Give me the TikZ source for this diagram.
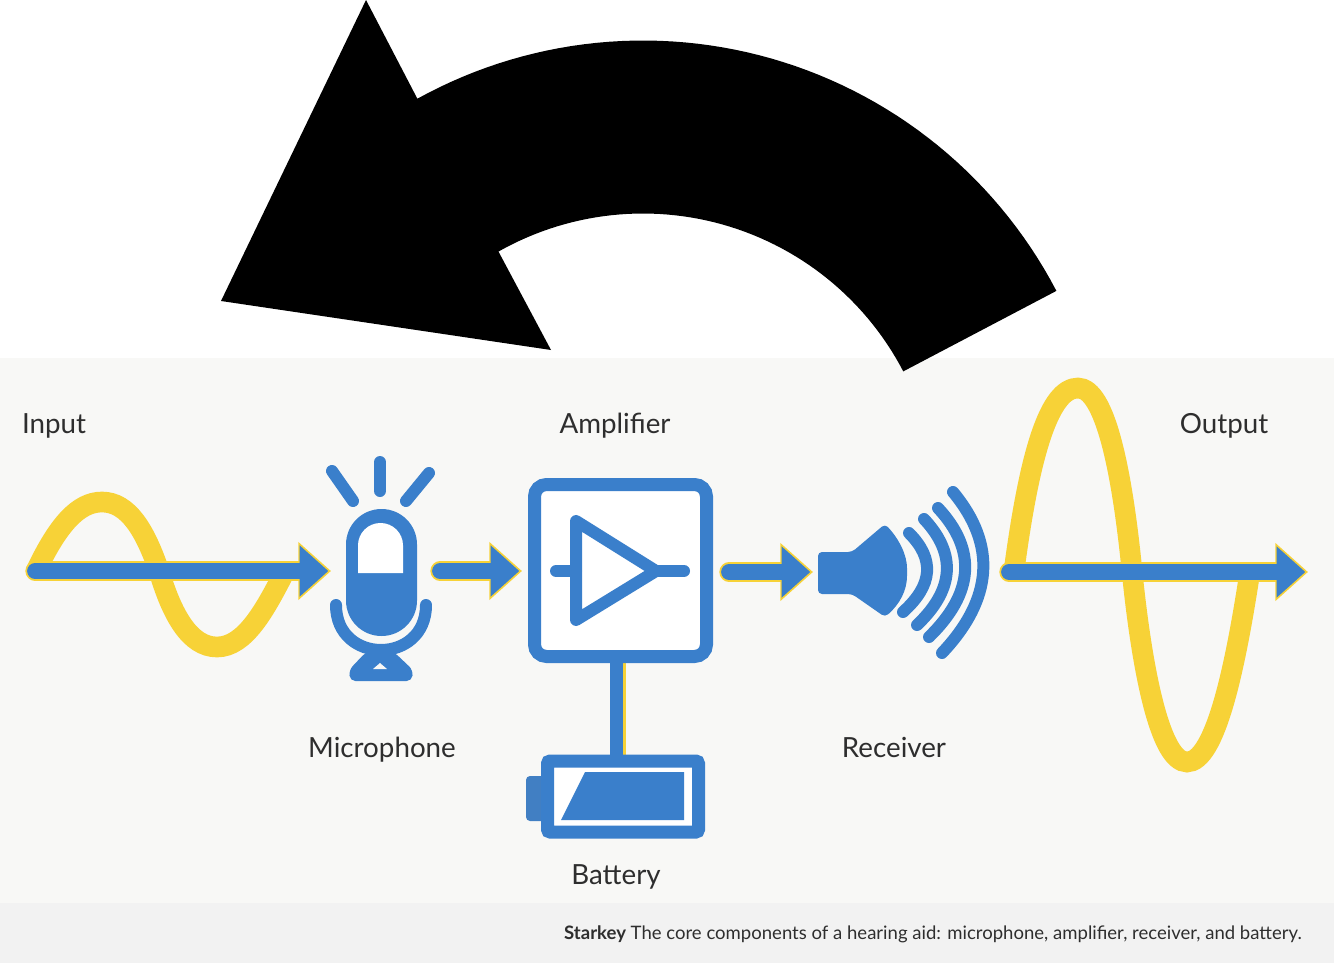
\documentclass[tikz,border=0pt]{standalone}
\usepackage{fontspec}
\setmainfont{Lato}
\usetikzlibrary{arrows.meta}
\definecolor{aidblue}{HTML}{3A7FCB}
\definecolor{aidyellow}{HTML}{F7D237}
\definecolor{panelgray}{HTML}{F8F8F6}
\definecolor{capgray}{HTML}{F2F2F2}
\definecolor{labelgray}{HTML}{2E2E2E}
\tikzset{
    lab/.style={font=\fontsize{20.8}{24}\selectfont, text=labelgray, inner sep=0pt, anchor=base},
    wave/.style={draw=aidyellow, line width=15.5pt},
    flowhalo/.style={draw=aidyellow, line width=14.5pt, line cap=round, -{Triangle[length=24.5pt,width=42pt]}},
    flowcore/.style={draw=aidblue, line width=11.8pt, line cap=round, shorten >=2pt, -{Triangle[length=21.5pt,width=37pt]}},
    icon/.style={draw=aidblue, line width=9pt, line cap=round},
}
\newcommand{\flowarrow}[2]{
    \draw[flowhalo] (#1) -- (#2);
    \draw[flowcore] (#1) -- (#2);
}
\begin{document}
\begin{tikzpicture}[x=0.75pt,y=-0.75pt]
    \useasboundingbox (0,0) rectangle (1334,963);
    \fill[fill=panelgray] (0,358) rectangle (1334,903);
    \fill[fill=capgray] (0,903) rectangle (1334,963);

    % curved arrow on top
    \fill[fill=black] (221,301) -- (366,0) -- (417,98)
        -- plot[domain=-118.9:-27.6,samples=60] ({643+466.5*cos(\x)},{507+466.5*sin(\x)})
        -- (904,371)
        -- plot[domain=-27.5:-119.5,samples=60] ({643+293.5*cos(\x)},{507+293.5*sin(\x)})
        -- (551,350) -- cycle;

    % waves
    \draw[wave] (36,571) .. controls (58,525) and (78,502) .. (102,502)
        .. controls (128,502) and (145,530) .. (159,571)
        .. controls (172,615) and (190,647) .. (217,647)
        .. controls (245,647) and (265,610) .. (285,571);
    \draw[wave] (1014,571) .. controls (1030,450) and (1050,388) .. (1078,388)
        .. controls (1105,388) and (1122,470) .. (1132,571)
        .. controls (1142,670) and (1160,762) .. (1187,762)
        .. controls (1215,762) and (1235,670) .. (1250,571);

    \coordinate (inStart) at (35,571);
    \coordinate (inEnd) at (331,571);
    \coordinate (micOut) at (440,571);
    \coordinate (ampIn) at (522,571);
    \coordinate (ampOut) at (729,572);
    \coordinate (spkIn) at (813,572);
    \coordinate (outStart) at (1009,572);
    \coordinate (outEnd) at (1308,572);
    \flowarrow{inStart}{inEnd}
    \flowarrow{micOut}{ampIn}
    \flowarrow{ampOut}{spkIn}
    \flowarrow{outStart}{outEnd}

    % microphone
    \draw[icon] (332,471) -- (353,501);
    \draw[icon] (380,462) -- (380,491);
    \draw[icon] (429,473) -- (406,501);
    \fill[fill=aidblue, rounded corners=26.6pt] (346,509) rectangle (417,636);
    \fill[fill=white] (358,573) [rounded corners=16.8pt] -- (358,523) -- (403,523) [sharp corners] -- (403,573) -- cycle;
    \draw[icon] (336,605) .. controls (336,665) and (426,665) .. (426,605);
    \fill[fill=aidblue, rounded corners=4pt] (366,652) -- (394,652) -- (413,670) -- (412,681) -- (350,681) -- (349,670) -- cycle;
    \fill[fill=panelgray] (373,669) -- (387,669) -- (380,663) -- cycle;

    % amplifier
    \draw[aidyellow, line width=12pt] (618,660) -- (618,758);
    \draw[aidblue, line width=9.75pt] (616.5,660) -- (616.5,758);
    \node[draw=aidblue, fill=white, line width=9.75pt, rounded corners=9pt, minimum width=129pt, minimum height=129pt] (amp) at (620.5,570.5) {};
    \draw[icon] (556,571) -- (576,571);
    \draw[icon] (655,571) -- (684,571);
    \draw[icon, line join=round] (576,521) -- (656,571) -- (576,620) -- cycle;

    % battery
    \fill[fill=aidblue!90!gray, rounded corners=3pt] (526,776) rectangle (545,821);
    \node[draw=aidblue, fill=white, line width=9.75pt, rounded corners=2pt, minimum width=113.25pt, minimum height=53.25pt] (bat) at (623,796.5) {};
    \fill[fill=aidblue] (585,772) -- (684,772) -- (684,820) -- (561,820) -- cycle;

    % receiver
    \fill[fill=aidblue, rounded corners=3pt] (818,552) -- (852,552) -- (885,524) .. controls (900,540) and (907,556) .. (907,572) .. controls (907,590) and (900,604) .. (885,617) -- (852,594) -- (818,594) -- cycle;
    \draw[icon] (909,533) .. controls (935,559) and (933,585) .. (903,612);
    \draw[icon] (924,519) .. controls (957,554) and (954,590) .. (917,625);
    \draw[icon] (938,508) .. controls (977,550) and (974,593) .. (929,637);
    \draw[icon] (953,492) .. controls (997,545) and (993,599) .. (942,653);

    \node[lab] (input) at (54,433) {Input};
    \node[lab] (amplifier) at (615,433) {Amplifier};
    \node[lab] (output) at (1224,433) {Output};
    \node[lab] (microphone) at (382,757) {Microphone};
    \node[lab] (receiver) at (894,757) {Receiver};
    \node[lab] (battery) at (616,884) {Battery};
    \node[anchor=base east, inner sep=0pt, text=labelgray, font=\fontsize{13.9}{16}\selectfont] (caption) at (1302,939) {\textbf{Starkey} The core components of a hearing aid: microphone, amplifier, receiver, and battery.};
\end{tikzpicture}
\end{document}
